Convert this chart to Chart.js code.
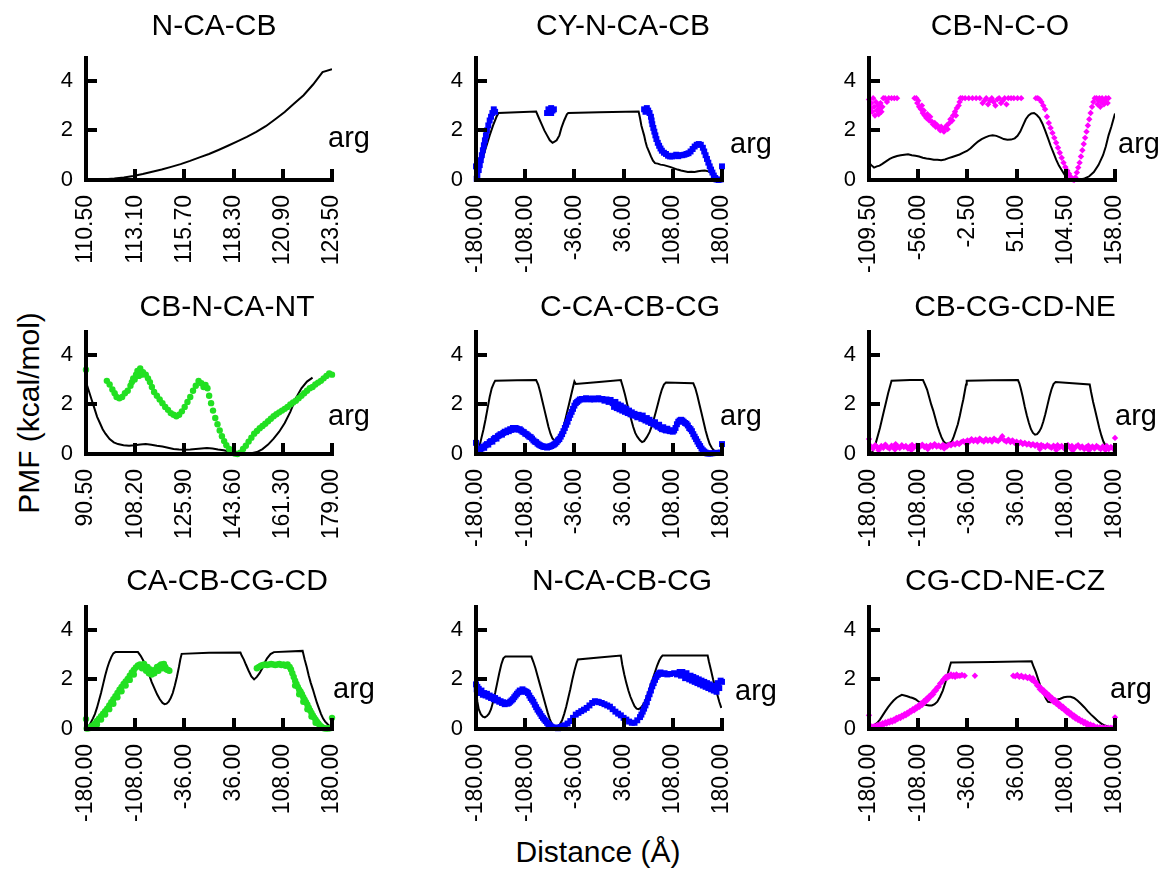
<!DOCTYPE html>
<html>
<head>
<meta charset="utf-8">
<script src="https://cdn.jsdelivr.net/npm/chart.js@4.4.1/dist/chart.umd.min.js"></script>
<style>
  body { margin: 0; background: #fff; overflow: hidden; width: 1165px; height: 875px; position: relative;
         font-family: "Liberation Sans", Arial, sans-serif; }
  canvas { position: absolute; }
  .lab { position: absolute; font-size: 30px; color: #000; white-space: nowrap; transform: translate(-50%, -50%); }
  #ylab { left: 29px; top: 413px; transform: translate(-50%, -50%) rotate(-90deg); }
  #xlab { left: 598px; top: 852px; }
</style>
</head>
<body>
<div class="lab" id="ylab">PMF (kcal/mol)</div>
<div class="lab" id="xlab">Distance (Å)</div>
<script>
// ---- data: [x, y] pairs ----
const pmfTicks = [0, 2, 4];
const ncacbTicks = [110.5, 113.1, 115.7, 118.3, 120.9, 123.5];
const dihedralTicks = [-180, -108, -36, 36, 108, 180];
const cbncoTicks = [-109.5, -56, -2.5, 51, 104.5, 158];
const cbncantTicks = [90.5, 108.2, 125.9, 143.6, 161.3, 179];

// N-CA-CB
const ncacbLine = [[110.5,0],[111,0.01],[111.5,0.03],[112,0.06],[112.5,0.1],[113,0.16],[113.5,0.24],[114,0.33],[114.5,0.42],[115,0.53],[115.5,0.64],[116,0.77],[116.5,0.91],[117,1.05],[117.5,1.21],[118,1.38],[118.5,1.56],[119,1.74],[119.5,1.94],[120,2.17],[120.5,2.45],[121,2.74],[121.5,3.08],[122,3.42],[122.5,3.85],[123,4.35],[123.5,4.47]];
const ncacbDots = [[110.5,0]];

// CY-N-CA-CB
const cyncacbLine = [[-180,0.02],[-175,0.45],[-170,0.9],[-165,1.35],[-160,1.8],[-155,2.2],[-150,2.55],[-147,2.7],[-120,2.73],[-92,2.76],[-88,2.5],[-84,2.25],[-80,2.0],[-76,1.8],[-72,1.6],[-68,1.5],[-65,1.55],[-62,1.6],[-58,1.8],[-55,2.1],[-51,2.4],[-47,2.65],[-45,2.7],[0,2.73],[58,2.76],[60,2.5],[62,2.2],[64,2.0],[66,1.8],[68,1.55],[70,1.35],[73,1.15],[76,0.95],[79,0.78],[82,0.68],[86,0.66],[90,0.62],[95,0.6],[100,0.56],[105,0.52],[110,0.47],[115,0.42],[120,0.38],[125,0.35],[130,0.32],[135,0.33],[140,0.32],[145,0.35],[150,0.37],[155,0.38],[160,0.35],[165,0.27],[170,0.12],[175,0.03],[180,0.02]];
const cyncacbDots = [[-180,0.55],[-179,0.05],[-178,0.2],[-176,0.4],[-174.5,0.6],[-173,0.8],[-171.5,1.0],[-170,1.2],[-168.5,1.4],[-167,1.6],[-165.5,1.8],[-164,2.0],[-162,2.2],[-160,2.4],[-158,2.55],[-156,2.7],[-154,2.85],[-152,2.75],[-76,2.7],[-74,2.85],[-72,2.75],[-70,2.9],[-70,2.7],[-68,2.8],[-66,2.85],[66,2.85],[68,2.75],[70,2.9],[72,2.8],[74,2.7],[76,2.55],[77,2.4],[78,2.25],[79.5,2.1],[81,1.95],[82.5,1.8],[84,1.65],[86,1.5],[88,1.38],[90,1.27],[92,1.18],[95,1.1],[98,1.05],[101,0.98],[104,0.95],[107,0.95],[110,0.98],[113,1.02],[116,0.96],[119,1.0],[122,1.0],[125,1.02],[128,1.05],[131,1.08],[134,1.15],[137,1.25],[140,1.35],[143,1.42],[146,1.45],[149,1.42],[152,1.3],[154,1.15],[156,1.0],[158,0.85],[160,0.7],[162,0.55],[164,0.42],[166,0.3],[168,0.18],[170,0.08],[172,0.02],[175,0.0],[178,0.02],[180,0.55]];

// CB-N-C-O
const cbncoLine = [[-109.5,0.7],[-107,0.6],[-104,0.5],[-101,0.55],[-98,0.58],[-95,0.65],[-91,0.75],[-87,0.85],[-83,0.92],[-79,0.97],[-75,1.0],[-71,1.02],[-67,1.04],[-63,1.0],[-59,0.98],[-55,0.95],[-51,0.9],[-47,0.87],[-43,0.85],[-39,0.82],[-35,0.82],[-31,0.8],[-27,0.83],[-23,0.88],[-19,0.93],[-15,0.98],[-11,1.03],[-7,1.1],[-3,1.17],[1,1.28],[5,1.42],[9,1.55],[13,1.65],[17,1.72],[21,1.78],[25,1.8],[29,1.78],[33,1.72],[37,1.65],[41,1.62],[45,1.63],[49,1.68],[52,1.78],[55,1.95],[58,2.2],[61,2.45],[64,2.6],[67,2.68],[70,2.7],[73,2.62],[76,2.5],[79,2.28],[82,2.0],[85,1.7],[88,1.38],[91,1.1],[94,0.82],[97,0.58],[100,0.4],[103,0.22],[106,0.07],[110,0.0],[115,0.0],[120,0.02],[125,0.06],[130,0.15],[135,0.32],[140,0.6],[145,1.0],[148,1.35],[151,1.8],[154,2.15],[158,2.68]];
const cbncoDots = [[-109.5,3.25],[-108,2.9],[-107,3.1],[-106,2.75],[-105,3.3],[-104,2.95],[-103,2.6],[-102,3.15],[-101,2.8],[-100,3.0],[-99,2.65],[-98,2.85],[-97,3.1],[-96,2.75],[-95,2.95],[-94,3.3],[-92,3.3],[-90,3.15],[-88,3.3],[-85,3.3],[-82,3.3],[-79,3.3],[-60,3.3],[-58,3.3],[-57,3.1],[-56,3.2],[-55,2.95],[-53,2.85],[-52,3.0],[-51,2.7],[-50,2.8],[-49,2.6],[-47,2.5],[-46,2.65],[-44,2.4],[-43,2.55],[-41,2.35],[-40,2.25],[-38,2.3],[-37,2.15],[-35,2.2],[-34,2.1],[-32,2.0],[-31,2.15],[-30,2.05],[-28,1.95],[-27,2.1],[-25,2.2],[-24,2.05],[-22,2.3],[-21,2.45],[-19,2.4],[-18,2.6],[-16,2.75],[-15,2.6],[-14,2.9],[-12,3.0],[-11,3.15],[-10,3.3],[-8,3.3],[-5,3.3],[-1,3.3],[3,3.3],[7,3.3],[11,3.3],[14,3.1],[16,3.2],[18,3.3],[20,3.05],[22,3.2],[24,3.3],[26,3.15],[28,3.0],[30,3.25],[32,3.3],[34,3.1],[36,3.2],[38,3.3],[40,3.05],[42,3.3],[45,3.3],[48,3.3],[52,3.3],[56,3.3],[72,3.3],[74,3.3],[76,3.25],[78,3.15],[80,3.0],[82,2.85],[84,2.55],[86,2.3],[88,2.1],[90,1.9],[92,1.7],[94,1.5],[96,1.3],[98,1.1],[100,0.9],[102,0.7],[104,0.52],[106,0.38],[108,0.25],[110,0.12],[112,0.03],[113.5,0.0],[115,0.1],[116.5,0.3],[118,0.5],[119.5,0.7],[121,0.95],[122.5,1.2],[124,1.45],[125.5,1.7],[127,1.95],[128.5,2.2],[130,2.45],[131.5,2.7],[133,2.95],[134.5,3.15],[136,3.3],[138,3.3],[139,3.05],[140,3.2],[141,3.3],[142,2.95],[143,3.15],[144,3.3],[146,3.05],[147,3.2],[148,3.3],[150,3.1],[151,3.3]];

// CB-N-CA-NT
const cbncantLine = [[90.5,2.9],[91.5,2.55],[92.5,2.2],[93.5,1.85],[94.5,1.5],[95.5,1.25],[96.5,1.0],[97.5,0.82],[99,0.6],[100.5,0.47],[102,0.4],[104,0.35],[106,0.33],[108,0.35],[110,0.38],[112,0.4],[114,0.37],[116,0.33],[118,0.3],[120,0.25],[122,0.2],[124,0.18],[126,0.17],[128,0.18],[130,0.2],[132,0.22],[134,0.24],[136,0.22],[138,0.18],[140,0.15],[142,0.1],[144,0.05],[146,0.03],[148,0.02],[150,0.03],[152,0.08],[154,0.2],[156,0.38],[158,0.62],[160,0.9],[162,1.25],[164,1.7],[166,2.25],[168,2.65],[170,2.92],[172,3.08]];
const cbncantDots = [[90.5,3.4],[98,2.95],[99,2.8],[100,2.6],[100.8,2.45],[101.5,2.3],[102.5,2.25],[103.5,2.3],[104.5,2.45],[105.5,2.55],[106.5,2.75],[107,2.9],[107.5,3.05],[108,3.0],[108.5,3.2],[109,3.35],[109.5,3.15],[110,3.45],[110.5,3.2],[111,3.3],[112,3.2],[112.8,3.05],[113.5,2.9],[114.2,2.7],[115,2.5],[116,2.35],[117,2.2],[118,2.05],[119,1.9],[120,1.78],[121,1.65],[122,1.58],[123,1.52],[124,1.58],[125,1.72],[126,1.9],[127,2.1],[128,2.3],[129,2.55],[130,2.75],[131,2.95],[132,2.85],[132.8,2.7],[133.5,2.78],[134.2,2.65],[134.8,2.35],[135.5,2.05],[136.2,1.75],[137,1.45],[137.8,1.2],[138.6,0.95],[139.4,0.72],[140.2,0.52],[141,0.35],[142,0.2],[143,0.08],[144,0.02],[145,0.0],[146,0.05],[147,0.2],[148,0.33],[149,0.5],[150,0.66],[151,0.82],[152,0.93],[153,1.04],[154,1.13],[155,1.22],[156,1.32],[157,1.42],[158,1.52],[159,1.6],[160,1.68],[161,1.75],[162,1.82],[163,1.9],[164,2.0],[165,2.08],[166,2.15],[167,2.25],[168,2.35],[169,2.45],[170,2.55],[171,2.65],[172,2.7],[173,2.8],[174,2.88],[175,2.95],[176,3.05],[177,3.15],[178,3.25],[179,3.2]];

// C-CA-CB-CG
const ccacbcgLine = [[-178,0.05],[-175,0.3],[-172,0.65],[-169,1.0],[-166,1.4],[-163,1.85],[-160,2.3],[-157,2.65],[-154,2.85],[-152,2.95],[-120,2.97],[-92,2.98],[-89,2.8],[-86,2.5],[-83,2.15],[-80,1.8],[-77,1.45],[-74,1.1],[-71,0.82],[-68,0.62],[-65,0.55],[-62,0.6],[-59,0.72],[-56,0.85],[-53,1.0],[-50,1.3],[-47,1.65],[-44,2.0],[-41,2.35],[-38,2.7],[-36,2.92],[-34,2.82],[0,2.9],[32,2.98],[35,2.7],[38,2.4],[41,2.05],[44,1.7],[47,1.4],[50,1.1],[53,0.85],[56,0.7],[60,0.55],[63,0.48],[66,0.52],[70,0.68],[74,0.88],[77,1.1],[80,1.38],[83,1.68],[86,2.0],[89,2.32],[92,2.6],[95,2.8],[98,2.88],[138,2.85],[141,2.65],[144,2.35],[147,2.0],[150,1.65],[153,1.3],[156,0.95],[159,0.65],[162,0.4],[165,0.25],[168,0.15],[172,0.06],[175,0.03]];
const ccacbcgDots = [[-180,0.45],[-178,0.1],[-176,0.2],[-174,0.12],[-172,0.22],[-170,0.3],[-168,0.25],[-166,0.35],[-164,0.4],[-162,0.38],[-160,0.48],[-158,0.52],[-156,0.5],[-154,0.6],[-152,0.65],[-150,0.62],[-148,0.72],[-146,0.75],[-144,0.8],[-142,0.78],[-140,0.85],[-138,0.9],[-136,0.88],[-134,0.95],[-132,0.92],[-130,1.0],[-128,0.97],[-126,1.05],[-124,1.0],[-122,1.05],[-120,1.02],[-118,0.98],[-116,1.0],[-114,0.95],[-112,0.9],[-110,0.88],[-108,0.82],[-106,0.8],[-104,0.75],[-102,0.7],[-100,0.68],[-98,0.62],[-96,0.55],[-94,0.5],[-92,0.48],[-90,0.42],[-88,0.38],[-86,0.35],[-84,0.32],[-82,0.3],[-80,0.28],[-78,0.3],[-76,0.26],[-74,0.28],[-72,0.3],[-70,0.32],[-68,0.35],[-66,0.38],[-64,0.42],[-62,0.48],[-60,0.55],[-58,0.6],[-56,0.7],[-54,0.8],[-52,0.92],[-50,1.05],[-48,1.18],[-46,1.3],[-44,1.45],[-42,1.58],[-40,1.7],[-38,1.82],[-36,1.95],[-34,2.05],[-32,2.1],[-30,2.15],[-28,2.2],[-25,2.22],[-22,2.2],[-19,2.25],[-16,2.22],[-13,2.2],[-10,2.24],[-7,2.2],[-4,2.22],[-1,2.25],[2,2.2],[5,2.22],[8,2.15],[11,2.2],[14,2.1],[17,2.18],[20,2.05],[22,1.9],[24,2.1],[26,1.85],[28,2.0],[30,1.8],[32,1.95],[34,1.75],[36,1.88],[38,1.7],[40,1.82],[42,1.65],[44,1.75],[46,1.6],[48,1.68],[50,1.55],[52,1.62],[54,1.55],[56,1.48],[58,1.58],[60,1.5],[62,1.42],[64,1.55],[66,1.4],[68,1.35],[70,1.45],[72,1.3],[74,1.38],[76,1.25],[78,1.3],[80,1.2],[82,1.28],[84,1.15],[86,1.1],[88,1.18],[90,1.05],[92,1.0],[94,1.08],[96,0.98],[98,0.95],[100,1.02],[102,0.95],[104,0.92],[106,0.95],[108,0.9],[110,0.95],[112,1.05],[114,1.2],[116,1.3],[118,1.35],[120,1.38],[122,1.35],[124,1.3],[126,1.25],[128,1.22],[130,1.15],[132,1.05],[134,1.0],[136,0.92],[138,0.8],[140,0.7],[142,0.6],[144,0.5],[146,0.4],[148,0.32],[150,0.22],[152,0.15],[154,0.1],[156,0.06],[158,0.03],[160,0.02],[163,0.02],[166,0.03],[169,0.04],[172,0.05],[175,0.04],[178,0.06],[180,0.4]];

// CB-CG-CD-NE
const cbcgcdneLine = [[-176,0.05],[-173,0.2],[-170,0.45],[-167,0.75],[-164,1.05],[-161,1.4],[-158,1.75],[-155,2.1],[-152,2.45],[-149,2.75],[-147,2.95],[-120,2.98],[-101,2.98],[-98,2.8],[-95,2.6],[-92,2.3],[-89,2.0],[-86,1.75],[-83,1.45],[-80,1.15],[-77,0.9],[-74,0.68],[-71,0.52],[-68,0.43],[-65,0.42],[-62,0.45],[-59,0.5],[-56,0.7],[-53,0.95],[-50,1.2],[-47,1.55],[-44,1.95],[-42,2.2],[-40,2.5],[-38,2.8],[-37,2.95],[0,2.97],[38,2.98],[40,2.85],[42,2.65],[45,2.3],[48,1.9],[51,1.55],[54,1.25],[57,1.0],[60,0.85],[63,0.78],[66,0.8],[69,0.9],[72,1.05],[75,1.3],[78,1.6],[81,1.95],[84,2.3],[87,2.6],[90,2.82],[93,2.9],[143,2.8],[145,2.5],[148,2.1],[151,1.75],[154,1.4],[157,1.05],[160,0.75],[163,0.5],[166,0.35],[169,0.25]];
const cbcgcdneDots = [[-180,0.6],[-177,0.3],[-174,0.22],[-171,0.35],[-168,0.28],[-165,0.2],[-162,0.32],[-159,0.25],[-156,0.38],[-153,0.27],[-150,0.22],[-147,0.33],[-144,0.26],[-141,0.4],[-138,0.3],[-135,0.24],[-132,0.35],[-129,0.28],[-126,0.32],[-123,0.22],[-120,0.3],[-117,0.36],[-114,0.27],[-111,0.33],[-108,0.25],[-105,0.3],[-102,0.38],[-99,0.28],[-96,0.32],[-93,0.24],[-90,0.35],[-87,0.3],[-84,0.4],[-81,0.3],[-78,0.34],[-75,0.28],[-72,0.36],[-69,0.32],[-66,0.3],[-63,0.38],[-60,0.35],[-57,0.42],[-54,0.38],[-51,0.45],[-48,0.4],[-45,0.48],[-42,0.52],[-39,0.45],[-36,0.55],[-33,0.5],[-30,0.6],[-27,0.52],[-24,0.58],[-21,0.5],[-18,0.62],[-15,0.55],[-12,0.5],[-9,0.6],[-6,0.53],[-3,0.58],[0,0.5],[3,0.62],[6,0.55],[9,0.52],[12,0.6],[15,0.72],[18,0.55],[21,0.5],[24,0.58],[27,0.48],[30,0.55],[33,0.45],[36,0.5],[39,0.42],[42,0.48],[45,0.4],[48,0.45],[51,0.38],[54,0.42],[57,0.35],[60,0.4],[63,0.33],[66,0.38],[69,0.3],[72,0.36],[75,0.32],[78,0.28],[81,0.35],[84,0.3],[87,0.25],[90,0.33],[93,0.28],[96,0.35],[99,0.27],[102,0.32],[105,0.24],[108,0.3],[111,0.36],[114,0.26],[117,0.32],[120,0.22],[123,0.3],[126,0.35],[129,0.25],[132,0.3],[135,0.2],[138,0.28],[141,0.33],[144,0.24],[147,0.3],[150,0.22],[153,0.32],[156,0.26],[159,0.2],[162,0.3],[165,0.24],[168,0.32],[171,0.2],[174,0.28],[177,0.22],[180,0.65],[-166,0.15],[-142,0.18],[-118,0.16],[-94,0.2],[-70,0.22],[70,0.2],[94,0.16],[118,0.14],[142,0.15],[166,0.16]];

// CA-CB-CG-CD
const cacbcgcdLine = [[-178,0.05],[-174,0.2],[-170,0.42],[-167,0.6],[-164,0.85],[-161,1.15],[-158,1.45],[-155,1.8],[-152,2.15],[-149,2.45],[-146,2.7],[-143,2.9],[-140,3.05],[-137,3.1],[-120,3.1],[-104,3.1],[-100,2.95],[-96,2.75],[-92,2.5],[-88,2.22],[-84,1.9],[-80,1.65],[-76,1.4],[-72,1.2],[-68,1.05],[-65,1.0],[-62,1.02],[-59,1.1],[-56,1.25],[-53,1.45],[-50,1.75],[-47,2.1],[-44,2.5],[-42,2.8],[-40,3.03],[0,3.07],[46,3.08],[48,2.95],[51,2.8],[54,2.6],[58,2.35],[62,2.12],[66,2.0],[70,2.1],[74,2.25],[78,2.45],[81,2.65],[85,2.85],[90,3.02],[95,3.1],[137,3.15],[140,2.8],[143,2.5],[146,2.15],[149,1.85],[152,1.6],[155,1.32],[158,1.05],[161,0.82],[164,0.6],[167,0.42],[170,0.3],[174,0.18],[178,0.08],[180,0.05]];
const cacbcgcdDots = [[-180,0.4],[-179,0.02],[-176,0.03],[-173,0.08],[-170,0.14],[-167,0.22],[-164,0.32],[-161,0.42],[-158,0.52],[-155,0.62],[-152,0.72],[-149,0.82],[-146,0.95],[-143,1.08],[-140,1.2],[-137,1.32],[-134,1.45],[-131,1.58],[-128,1.7],[-125,1.82],[-122,1.92],[-119,2.02],[-116,2.15],[-113,2.28],[-110,2.38],[-107,2.48],[-104,2.56],[-101,2.6],[-98,2.45],[-95,2.62],[-92,2.35],[-90,2.5],[-88,2.25],[-86,2.4],[-84,2.2],[-82,2.32],[-80,2.25],[-78,2.4],[-76,2.5],[-74,2.35],[-72,2.55],[-70,2.6],[-68,2.45],[-66,2.62],[-64,2.5],[-62,2.4],[-60,2.38],[-58,2.35],[-170,0.05],[-164,0.18],[-158,0.38],[-152,0.58],[-146,0.8],[-140,1.02],[-134,1.28],[-128,1.52],[-122,1.75],[-116,1.98],[-110,2.2],[70,2.45],[73,2.5],[76,2.55],[79,2.58],[82,2.6],[85,2.58],[88,2.6],[91,2.62],[94,2.6],[97,2.58],[100,2.6],[103,2.62],[106,2.58],[109,2.6],[112,2.55],[115,2.6],[118,2.5],[120,2.4],[122,2.25],[124,2.1],[126,1.95],[128,1.82],[130,1.7],[132,1.58],[134,1.5],[136,1.4],[138,1.28],[140,1.18],[142,1.08],[144,0.98],[146,0.86],[148,0.75],[150,0.65],[152,0.55],[154,0.46],[156,0.37],[158,0.29],[160,0.22],[162,0.15],[164,0.1],[166,0.06],[168,0.03],[171,0.02],[174,0.02],[177,0.03],[180,0.45],[126,1.75],[132,1.4],[138,1.1],[144,0.8],[150,0.5],[156,0.25]];

// N-CA-CB-CG
const ncacbcgLine = [[-180,1.55],[-178,1.1],[-176,0.8],[-173,0.6],[-170,0.5],[-167,0.47],[-164,0.52],[-161,0.62],[-158,0.8],[-155,1.1],[-152,1.45],[-149,1.85],[-146,2.25],[-143,2.6],[-140,2.85],[-137,2.92],[-99,2.92],[-96,2.7],[-93,2.45],[-90,2.15],[-87,1.85],[-84,1.55],[-81,1.25],[-78,0.95],[-75,0.65],[-72,0.4],[-69,0.2],[-66,0.08],[-63,0.05],[-60,0.1],[-57,0.2],[-54,0.35],[-51,0.6],[-48,0.9],[-45,1.25],[-42,1.6],[-39,2.0],[-36,2.35],[-33,2.65],[-31,2.8],[0,2.88],[32,2.96],[34,2.6],[37,2.2],[40,1.85],[43,1.55],[46,1.3],[49,1.1],[52,0.92],[55,0.82],[58,0.8],[61,0.85],[64,0.95],[67,1.1],[70,1.3],[73,1.55],[76,1.8],[79,2.05],[82,2.3],[85,2.55],[88,2.75],[91,2.9],[93,2.96],[159,2.96],[161,2.7],[164,2.36],[167,2.0],[170,1.7],[173,1.4],[176,1.1],[179,0.85]];
const ncacbcgDots = [[-180,1.8],[-179,1.6],[-178,1.7],[-177,1.5],[-176,1.62],[-174,1.45],[-172,1.55],[-170,1.38],[-168,1.45],[-166,1.35],[-164,1.42],[-162,1.3],[-160,1.35],[-158,1.25],[-156,1.3],[-154,1.2],[-152,1.25],[-150,1.15],[-148,1.18],[-146,1.1],[-144,1.12],[-142,1.05],[-140,1.08],[-138,1.0],[-136,1.05],[-134,1.02],[-132,1.05],[-130,1.1],[-128,1.15],[-126,1.2],[-124,1.28],[-122,1.35],[-120,1.42],[-118,1.48],[-116,1.55],[-114,1.5],[-112,1.6],[-110,1.55],[-108,1.52],[-106,1.5],[-104,1.45],[-102,1.35],[-100,1.25],[-98,1.18],[-96,1.1],[-94,0.98],[-92,0.88],[-90,0.78],[-88,0.7],[-86,0.62],[-84,0.52],[-82,0.45],[-80,0.38],[-78,0.32],[-76,0.25],[-74,0.2],[-72,0.15],[-70,0.1],[-68,0.07],[-66,0.05],[-64,0.04],[-62,0.05],[-60,0.03],[-58,0.06],[-56,0.08],[-54,0.1],[-52,0.12],[-50,0.15],[-46,0.22],[-42,0.32],[-38,0.45],[-34,0.58],[-30,0.65],[-26,0.72],[-22,0.78],[-18,0.85],[-14,0.95],[-10,1.05],[-6,1.12],[-2,1.1],[0,1.08],[4,1.05],[8,1.0],[12,0.95],[16,0.9],[20,0.8],[24,0.7],[28,0.62],[32,0.55],[36,0.45],[40,0.38],[44,0.3],[48,0.25],[52,0.25],[56,0.35],[60,0.48],[62,0.58],[64,0.7],[66,0.82],[68,0.95],[70,1.08],[72,1.25],[74,1.4],[76,1.55],[78,1.72],[80,1.85],[82,1.98],[84,2.1],[86,2.18],[88,2.25],[90,2.28],[92,2.22],[96,2.25],[100,2.2],[104,2.22],[110,2.25],[114,2.2],[118,2.3],[120,2.15],[122,2.3],[124,2.2],[126,2.05],[128,2.25],[130,2.1],[132,2.0],[134,2.15],[136,1.95],[138,2.1],[140,1.9],[142,2.05],[144,1.85],[146,2.0],[148,1.8],[150,1.95],[152,1.75],[154,1.9],[156,1.7],[158,1.85],[160,1.65],[162,1.8],[164,1.6],[166,1.75],[168,1.55],[170,1.72],[172,1.5],[174,1.85],[176,1.65],[178,1.95],[180,1.9]];

// CG-CD-NE-CZ
const cgcdneczLine = [[-176,0.07],[-172,0.15],[-168,0.25],[-164,0.38],[-160,0.55],[-156,0.72],[-152,0.88],[-148,1.02],[-144,1.15],[-140,1.25],[-136,1.32],[-132,1.38],[-128,1.35],[-124,1.32],[-120,1.28],[-116,1.25],[-112,1.2],[-108,1.12],[-104,1.05],[-100,1.0],[-96,0.97],[-92,0.95],[-88,0.95],[-84,1.0],[-80,1.1],[-76,1.3],[-72,1.55],[-68,1.9],[-65,2.2],[-62,2.5],[-60,2.68],[0,2.7],[58,2.73],[61,2.5],[64,2.3],[67,2.05],[70,1.8],[73,1.6],[76,1.4],[79,1.22],[82,1.1],[86,1.08],[90,1.1],[95,1.18],[100,1.22],[105,1.28],[110,1.3],[115,1.3],[120,1.25],[125,1.15],[130,1.02],[135,0.88],[140,0.72],[145,0.58],[150,0.45],[155,0.32],[160,0.22],[165,0.14],[170,0.1],[175,0.08],[180,0.07]];
const cgcdneczDots = [[-180,0.55],[-178,0.05],[-176,0.1],[-174,0.06],[-172,0.12],[-170,0.09],[-168,0.15],[-166,0.12],[-164,0.19],[-162,0.15],[-160,0.23],[-158,0.19],[-156,0.27],[-154,0.22],[-152,0.3],[-150,0.26],[-148,0.34],[-146,0.29],[-144,0.38],[-142,0.33],[-140,0.45],[-138,0.4],[-136,0.49],[-134,0.44],[-132,0.54],[-130,0.5],[-128,0.6],[-126,0.55],[-124,0.66],[-122,0.62],[-120,0.73],[-118,0.7],[-116,0.8],[-114,0.75],[-112,0.87],[-110,0.83],[-108,0.94],[-106,0.9],[-104,1.03],[-102,0.98],[-100,1.12],[-98,1.08],[-96,1.22],[-94,1.18],[-92,1.32],[-90,1.3],[-88,1.42],[-86,1.4],[-84,1.55],[-82,1.55],[-80,1.68],[-78,1.7],[-76,1.83],[-74,1.88],[-72,1.97],[-70,2.02],[-68,2.1],[-66,2.05],[-64,2.15],[-62,2.12],[-60,2.2],[-58,2.12],[-56,2.18],[-54,2.1],[-52,2.2],[-50,2.15],[-47,2.15],[-44,2.18],[-40,2.15],[-25,2.15],[31,2.15],[34,2.12],[37,2.18],[40,2.1],[43,2.15],[46,2.08],[49,2.12],[52,2.05],[55,2.1],[58,1.98],[60,2.05],[62,1.9],[64,1.9],[66,1.75],[68,1.75],[70,1.6],[72,1.65],[74,1.5],[76,1.55],[78,1.4],[80,1.45],[82,1.3],[84,1.35],[86,1.2],[88,1.25],[90,1.1],[92,1.17],[94,1.02],[96,1.08],[98,0.93],[100,0.98],[102,0.84],[104,0.9],[106,0.76],[108,0.8],[110,0.66],[112,0.72],[114,0.58],[116,0.63],[118,0.5],[120,0.55],[122,0.42],[124,0.47],[126,0.36],[128,0.4],[130,0.3],[132,0.33],[134,0.24],[136,0.28],[138,0.19],[140,0.22],[142,0.15],[144,0.18],[146,0.12],[148,0.14],[150,0.1],[154,0.08],[158,0.07],[162,0.06],[166,0.06],[170,0.05],[174,0.05],[178,0.06],[180,0.47]];

// ---- layout / style ----
const FONT = '"Liberation Sans", Arial, sans-serif';
Chart.defaults.font.family = FONT;
Chart.defaults.color = '#000';

const BLUE = '#0000ff', GREEN = '#22e022', MAGENTA = '#ff00ff';
const colLeft = [86, 476, 869];
const rowTop = [56, 330, 605];
const titleY = [27, 308, 582];
const padRight = [64, 64, 50];
const PW = 246, PH = 124, PAD_L = 60, PAD_T = 50, XAX_H = 92;

const panels = [
  { title: 'N-CA-CB',     min: 110.5,  max: 123.5, ticks: ncacbTicks,    line: ncacbLine,    dots: ncacbDots,    color: GREEN,   style: 'circle',  r: 1.2 },
  { title: 'CY-N-CA-CB',  min: -180,   max: 180,   ticks: dihedralTicks, line: cyncacbLine,  dots: cyncacbDots,  color: BLUE,    style: 'rect',    r: 4.2 },
  { title: 'CB-N-C-O',    min: -109.5, max: 158,   ticks: cbncoTicks,    line: cbncoLine,    dots: cbncoDots,    color: MAGENTA, style: 'rectRot', r: 3.2 },
  { title: 'CB-N-CA-NT',  min: 90.5,   max: 179,   ticks: cbncantTicks,  line: cbncantLine,  dots: cbncantDots,  color: GREEN,   style: 'circle',  r: 3.2 },
  { title: 'C-CA-CB-CG',  min: -180,   max: 180,   ticks: dihedralTicks, line: ccacbcgLine,  dots: ccacbcgDots,  color: BLUE,    style: 'rect',    r: 4.2 },
  { title: 'CB-CG-CD-NE', min: -180,   max: 180,   ticks: dihedralTicks, line: cbcgcdneLine, dots: cbcgcdneDots, color: MAGENTA, style: 'rectRot', r: 3.2 },
  { title: 'CA-CB-CG-CD', min: -180,   max: 180,   ticks: dihedralTicks, line: cacbcgcdLine, dots: cacbcgcdDots, color: GREEN,   style: 'circle',  r: 3.2 },
  { title: 'N-CA-CB-CG',  min: -180,   max: 180,   ticks: dihedralTicks, line: ncacbcgLine,  dots: ncacbcgDots,  color: BLUE,    style: 'rect',    r: 4.2 },
  { title: 'CG-CD-NE-CZ', min: -180,   max: 180,   ticks: dihedralTicks, line: cgcdneczLine, dots: cgcdneczDots, color: MAGENTA, style: 'rectRot', r: 3.2 }
];
// page positions of the panel titles (centre x) and of the "arg" label (left, baseline)
const titleX = [214, 623, 1000, 227, 630, 1015, 227, 622, 1005];
const argPos = [[328,147],[730,153],[1118,153],[328,425],[720,425],[1115,425],[333,698],[735,700],[1110,698]];

// thick axes with inward tick marks, panel title and the "arg" tag
const panelDecor = {
  id: 'panelDecor',
  afterDraw(chart, args, o) {
    const ctx = chart.ctx, a = chart.chartArea;
    const sx = chart.scales.x, sy = chart.scales.y;
    const L = Math.round(a.left), B = Math.round(a.bottom), R = Math.round(a.right), T = Math.round(a.top);
    ctx.save();
    ctx.fillStyle = '#000';
    // axes as filled bars (3.5 px thick)
    ctx.fillRect(L - 2, T, 4, B - T + 2);
    ctx.fillRect(L - 2, B - 2, R - L + 4, 4);
    // inward tick marks
    sx.ticks.forEach((t, k) => {
      const px = Math.round(sx.getPixelForTick(k));
      ctx.fillRect(px - 2, B - 11, 4, 11);
    });
    sy.ticks.forEach((t, k) => {
      const py = Math.round(sy.getPixelForTick(k));
      ctx.fillRect(L, py - 2, 11, 4);
    });
    ctx.font = '30px ' + FONT;
    ctx.textAlign = 'center';
    ctx.textBaseline = 'middle';
    ctx.fillText(o.title, o.tx, o.ty);
    ctx.font = '29px ' + FONT;
    ctx.textAlign = 'left';
    ctx.textBaseline = 'alphabetic';
    ctx.fillText('arg', o.ax, o.ay);
    ctx.restore();
  }
};

panels.forEach((p, i) => {
  const row = Math.floor(i / 3), col = i % 3;
  const left = colLeft[col] - PAD_L, top = rowTop[row] - PAD_T;
  const cv = document.createElement('canvas');
  cv.width = PAD_L + PW + padRight[col];
  cv.height = PAD_T + PH + XAX_H;
  cv.style.left = left + 'px';
  cv.style.top = top + 'px';
  document.body.appendChild(cv);

  new Chart(cv, {
    type: 'scatter',
    data: {
      datasets: [
        {
          data: p.dots.map(([x, y]) => ({ x, y })),
          backgroundColor: p.color, borderColor: p.color, borderWidth: 0,
          pointStyle: p.style, pointRadius: p.r, clip: false, order: 0
        },
        {
          data: p.line.map(([x, y]) => ({ x, y })),
          showLine: true, borderColor: '#000', borderWidth: 2,
          pointRadius: 0, tension: 0, order: 1
        }
      ]
    },
    options: {
      responsive: false, animation: false, devicePixelRatio: 1,
      layout: { padding: { top: PAD_T, right: padRight[col], left: 0, bottom: 0 } },
      plugins: {
        legend: { display: false },
        tooltip: { enabled: false },
        panelDecor: {
          title: p.title, tx: titleX[i] - left, ty: titleY[row] - top,
          ax: argPos[i][0] - left, ay: argPos[i][1] - top
        }
      },
      scales: {
        x: {
          type: 'linear', min: p.min, max: p.max,
          afterBuildTicks: s => { s.ticks = p.ticks.map(v => ({ value: v })); },
          afterFit: s => { s.height = XAX_H; s.paddingLeft = 0; s.paddingRight = 0; },
          grid: { display: false, drawTicks: false },
          border: { display: false },
          ticks: {
            autoSkip: false, minRotation: 90, maxRotation: 90, padding: 15,
            color: '#000', font: { size: 23 },
            callback: v => Number(v).toFixed(2)
          }
        },
        y: {
          min: 0, max: 5,
          afterBuildTicks: s => { s.ticks = pmfTicks.map(v => ({ value: v })); },
          afterFit: s => { s.width = PAD_L; s.paddingTop = 0; s.paddingBottom = 0; },
          grid: { display: false, drawTicks: false },
          border: { display: false },
          ticks: { padding: 13, color: '#000', font: { size: 22 }, callback: v => String(v) }
        }
      }
    },
    plugins: [panelDecor]
  });
});
</script>
</body>
</html>
